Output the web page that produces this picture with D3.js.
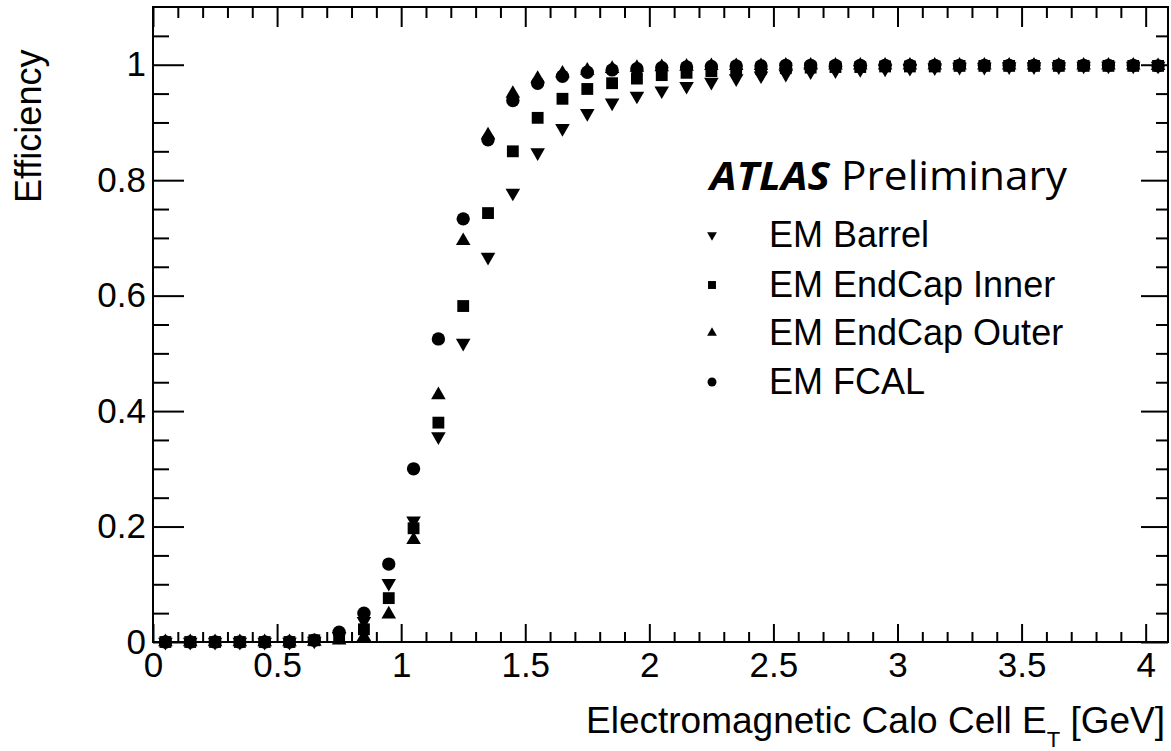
<!DOCTYPE html>
<html>
<head>
<meta charset="utf-8">
<script src="https://cdn.jsdelivr.net/npm/d3@7"></script>
<style>
  body { margin: 0; background: #fff; }
  text { font-family: "Liberation Sans", Arial, sans-serif; fill: #000; }
</style>
</head>
<body>
<div id="chart"></div>
<script>
/* Efficiency vs cell ET for the EM calorimeter regions */

// bin centres (GeV)
const binCenters = [0.05, 0.15, 0.25, 0.35, 0.45, 0.55, 0.65, 0.75, 0.85, 0.95,
    1.05, 1.15, 1.25, 1.35, 1.45, 1.55, 1.65, 1.75, 1.85, 1.95,
    2.05, 2.15, 2.25, 2.35, 2.45, 2.55, 2.65, 2.75, 2.85, 2.95,
    3.05, 3.15, 3.25, 3.35, 3.45, 3.55, 3.65, 3.75, 3.85, 3.95, 4.05];

const emBarrel = [0, 0, 0, 0, 0, 0, 0.002, 0.010, 0.036, 0.102,
    0.210, 0.356, 0.518, 0.667, 0.778, 0.848, 0.890, 0.916, 0.934, 0.946,
    0.955, 0.963, 0.970, 0.976, 0.981, 0.984, 0.988, 0.990, 0.992, 0.993,
    0.994, 0.995, 0.996, 0.996, 0.997, 0.997, 0.997, 0.998, 0.998, 0.998, 0.998];

const emEndCapInner = [0, 0, 0, 0, 0, 0, 0.003, 0.008, 0.022, 0.076,
    0.197, 0.380, 0.582, 0.743, 0.850, 0.908, 0.941, 0.958, 0.968, 0.976,
    0.982, 0.986, 0.989, 0.991, 0.993, 0.994, 0.995, 0.996, 0.996, 0.997,
    0.997, 0.997, 0.998, 0.998, 0.998, 0.998, 0.998, 0.998, 0.998, 0.998, 0.998];

const emEndCapOuter = [0, 0, 0, 0, 0, 0, 0.001, 0.003, 0.009, 0.048,
    0.177, 0.428, 0.695, 0.878, 0.950, 0.976, 0.985, 0.990, 0.993, 0.995,
    0.996, 0.997, 0.998, 0.998, 0.998, 0.999, 0.999, 0.999, 0.999, 0.999,
    0.999, 0.999, 0.999, 0.999, 0.999, 0.999, 0.999, 0.999, 0.999, 0.999, 0.998];

const emFcal = [0, 0, 0, 0, 0, 0, 0.003, 0.017, 0.050, 0.135,
    0.300, 0.525, 0.733, 0.870, 0.938, 0.968, 0.980, 0.987, 0.991, 0.993,
    0.995, 0.996, 0.997, 0.998, 0.998, 0.999, 0.999, 0.999, 0.999, 0.999,
    0.999, 0.999, 0.999, 0.999, 0.999, 0.999, 0.999, 0.999, 0.999, 0.999, 0.998];

const seriesNames = ["EM Barrel", "EM EndCap Inner", "EM EndCap Outer", "EM FCAL"];

const xMajor = [0, 0.5, 1, 1.5, 2, 2.5, 3, 3.5, 4];
const yMajor = [0, 0.2, 0.4, 0.6, 0.8, 1];

const width = 1171, height = 751,
      margin = ({top: 7, right: 3, bottom: 109, left: 153});

const series = [
    {name: seriesNames[0], values: emBarrel, shape: d3.symbolTriangle, rot: 180, size: 92},
    {name: seriesNames[1], values: emEndCapInner, shape: d3.symbolSquare, rot: 0, size: 140},
    {name: seriesNames[2], values: emEndCapOuter, shape: d3.symbolTriangle, rot: 0, size: 92},
    {name: seriesNames[3], values: emFcal, shape: d3.symbolCircle, rot: 0, size: 140}
];

let svg = d3.select("#chart")
    .append("svg")
    .attr("width", width)
    .attr("height", height);

let x = d3.scaleLinear()
    .domain([0, 4.09])
    .range([margin.left, width - margin.right]);

let y = d3.scaleLinear()
    .domain([0, 1.1])
    .range([height - margin.bottom, margin.top]);

const xMinor = d3.range(1, 41).map(i => i / 10).filter(v => !xMajor.includes(v));
const yMinor = d3.range(1, 22).map(i => i / 20).filter(v => !yMajor.some(m => Math.abs(m - v) < 1e-9));

const fmt = d => String(d);

// ticks point inward on all four sides, ROOT style
function ticks(axis, vals, len, labels, pad) {
    return g => g.call(axis.tickValues(vals).tickSize(-len).tickPadding(pad || 0)
            .tickFormat(labels ? fmt : ""))
        .call(g => g.select(".domain").remove())
        .call(g => g.selectAll("line").attr("stroke", "#000").attr("stroke-width", 2))
        .call(g => g.selectAll("text").attr("font-size", 35).attr("fill", "#000"));
}

const bottom = height - margin.bottom, right = width - margin.right;

svg.append("g").attr("transform", `translate(0,${bottom})`)
    .call(ticks(d3.axisBottom(x), xMinor, 10));
svg.append("g").attr("transform", `translate(0,${bottom})`)
    .call(ticks(d3.axisBottom(x), xMajor, 18, true, 10));
svg.append("g").attr("transform", `translate(0,${margin.top})`)
    .call(ticks(d3.axisTop(x), xMinor, 11));
svg.append("g").attr("transform", `translate(0,${margin.top})`)
    .call(ticks(d3.axisTop(x), xMajor, 20));

svg.append("g").attr("transform", `translate(${margin.left},0)`)
    .call(ticks(d3.axisLeft(y), yMinor, 16));
svg.append("g").attr("transform", `translate(${margin.left},0)`)
    .call(ticks(d3.axisLeft(y), yMajor, 31, true, 7));
svg.append("g").attr("transform", `translate(${right},0)`)
    .call(ticks(d3.axisRight(y), yMinor, 12));
svg.append("g").attr("transform", `translate(${right},0)`)
    .call(ticks(d3.axisRight(y), yMajor, 27));

// frame
svg.append("rect")
    .attr("x", margin.left).attr("y", margin.top)
    .attr("width", right - margin.left).attr("height", bottom - margin.top)
    .attr("fill", "none").attr("stroke", "#000").attr("stroke-width", 2);

// markers
for (let s of series) {
    svg.append("g")
        .selectAll("path")
        .data(s.values.map((v, i) => ({x: binCenters[i], y: v})))
        .join("path")
        .attr("d", d3.symbol(s.shape, s.size))
        .attr("fill", "#000")
        .attr("transform", d => `translate(${x(d.x)},${y(d.y)}) rotate(${s.rot})`);
}

// axis titles
svg.append("text")
    .attr("x", 1165).attr("y", 733)
    .attr("text-anchor", "end")
    .attr("font-size", 37)
    .call(t => {
        t.append("tspan").text("Electromagnetic Calo Cell E");
        t.append("tspan").attr("font-size", 22).attr("dy", 14).text("T");
        t.append("tspan").attr("dy", -14).text(" [GeV]");
    });

svg.append("text")
    .attr("transform", "translate(41,203) rotate(-90)")
    .attr("font-size", 36)
    .text("Efficiency");

// ATLAS label
svg.append("text")
    .attr("x", 710).attr("y", 190)
    .attr("font-size", 40)
    .attr("textLength", 357)
    .attr("lengthAdjust", "spacingAndGlyphs")
    .style("font-family", "'Open Sans', sans-serif")
    .call(t => {
        t.append("tspan").attr("font-weight", "bold").attr("font-style", "italic").text("ATLAS");
        t.append("tspan").text(" Preliminary");
    });

// legend
const legendY = [235, 285, 333, 382];
let leg = svg.append("g")
    .selectAll("g")
    .data(series)
    .join("g")
    .attr("transform", (d, i) => `translate(712,${legendY[i]})`);

leg.append("path")
    .attr("d", d => d3.symbol(d.shape, d.size * 0.45)())
    .attr("transform", d => `rotate(${d.rot})`)
    .attr("fill", "#000");

leg.append("text")
    .attr("x", 57).attr("y", 12)
    .attr("font-size", 36)
    .text(d => d.name);
</script>
</body>
</html>
